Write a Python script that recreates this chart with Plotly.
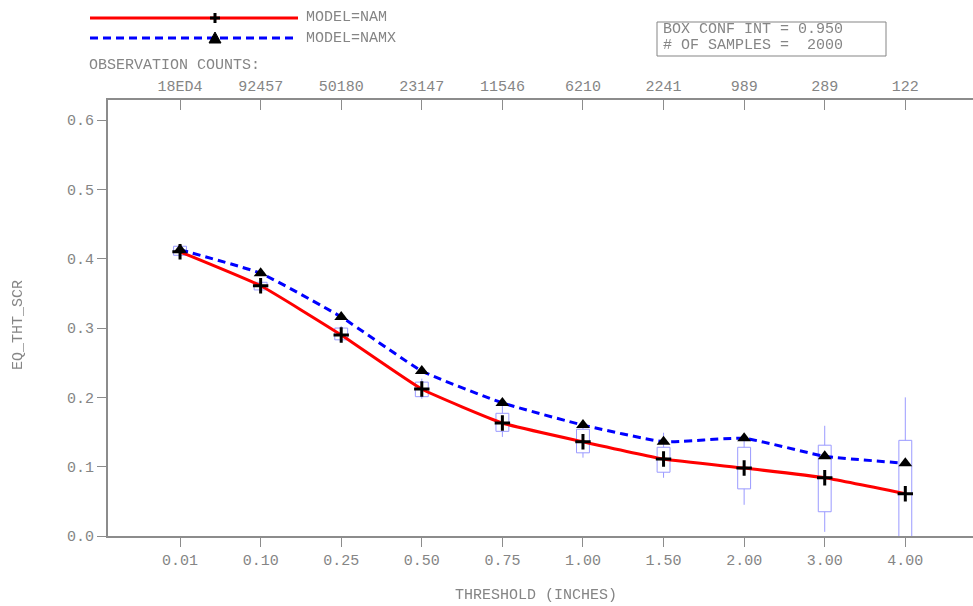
import plotly.graph_objects as go

# Threshold categories (inches) and the observation counts for each
thresholds = ["0.01", "0.10", "0.25", "0.50", "0.75", "1.00", "1.50", "2.00", "3.00", "4.00"]
obs_counts = ["18ED4", "92457", "50180", "23147", "11546", "6210", "2241", "989", "289", "122"]

# Equitable threat score per model
nam = [0.410, 0.361, 0.290, 0.212, 0.163, 0.136, 0.111, 0.098, 0.084, 0.061]
namx = [0.413, 0.379, 0.316, 0.238, 0.192, 0.160, 0.136, 0.141, 0.115, 0.105]

# Bootstrap confidence boxes (box edges and whisker ends)
box_lo = [0.405, 0.355, 0.283, 0.201, 0.151, 0.120, 0.092, 0.068, 0.035, -0.005]
box_hi = [0.418, 0.366, 0.300, 0.222, 0.177, 0.154, 0.128, 0.128, 0.131, 0.138]
whisk_lo = [0.403, 0.353, 0.280, 0.198, 0.143, 0.113, 0.084, 0.045, 0.006, -0.040]
whisk_hi = [0.420, 0.369, 0.303, 0.227, 0.196, 0.160, 0.149, 0.141, 0.159, 0.200]

idx = list(range(len(thresholds)))

FONT = "Liberation Mono"
GREY = "#858585"
AXIS = "#8c8c8c"

# plot area in pixels
L, R, T, B = 108, 0, 100, 70
W, H = 973, 606
PW, PH = W - L - R, H - T - B


def px(x):
    return (x - L) / PW


def py(y):
    return (H - B - y) / PH


fig = go.Figure()

fig.add_trace(go.Box(
    x=idx, q1=box_lo, q3=box_hi, median=nam,
    lowerfence=whisk_lo, upperfence=whisk_hi,
    width=0.16, whiskerwidth=0, boxpoints=False,
    line=dict(color="#9a9aff", width=1),
    fillcolor="rgba(0,0,0,0)", showlegend=False, hoverinfo="skip",
))

fig.add_trace(go.Scatter(
    x=idx, y=nam, mode="lines+markers", name="MODEL=NAM",
    line=dict(color="#ff0000", width=3, shape="spline", smoothing=0.4),
    marker=dict(symbol="cross-thin", size=11, color="black",
                line=dict(color="black", width=3)),
    showlegend=False,
))
fig.add_trace(go.Scatter(
    x=idx, y=namx, mode="lines+markers", name="MODEL=NAMX",
    line=dict(color="#0000ff", width=3, dash="8px,5px", shape="spline", smoothing=0.4),
    marker=dict(symbol="triangle-up", size=12, color="black"),
    showlegend=False,
))
# carrier for the top (observation counts) axis
fig.add_trace(go.Scatter(
    x=idx, y=nam, xaxis="x2", mode="markers", opacity=0,
    showlegend=False, hoverinfo="skip",
))

xrange = [-0.894, 9.84]
yrange = [0, 0.629]

fig.update_layout(
    width=W, height=H,
    margin=dict(l=L, r=R, t=T, b=B),
    paper_bgcolor="white", plot_bgcolor="white",
    font=dict(family=FONT, size=15, color=GREY),
    xaxis=dict(
        range=xrange, tickmode="array", tickvals=idx, ticktext=thresholds,
        ticks="outside", ticklen=9, tickcolor=AXIS, tickwidth=1,
        showline=True, linecolor=AXIS, linewidth=2, mirror=False,
        showgrid=False, zeroline=False,
        tickfont=dict(family=FONT, size=15, color=GREY),
    ),
    xaxis2=dict(
        range=xrange, overlaying="x", side="top", anchor="y",
        tickmode="array", tickvals=idx, ticktext=obs_counts,
        ticks="inside", ticklen=10, tickcolor=AXIS, tickwidth=1,
        showline=True, linecolor=AXIS, linewidth=2,
        showgrid=False, zeroline=False, ticklabelstandoff=1,
        tickfont=dict(family=FONT, size=15, color=GREY),
    ),
    yaxis=dict(
        range=yrange, tickmode="array",
        tickvals=[0, 0.1, 0.2, 0.3, 0.4, 0.5, 0.6],
        ticktext=["0.0", "0.1", "0.2", "0.3", "0.4", "0.5", "0.6"],
        ticks="outside", ticklen=9, tickcolor=AXIS, tickwidth=1,
        showline=True, linecolor=AXIS, linewidth=2,
        showgrid=False, zeroline=False,
        tickfont=dict(family=FONT, size=15, color=GREY),
    ),
    yaxis2=dict(
        range=yrange, overlaying="y", side="left",
        tickmode="array", tickvals=[0.2, 0.4, 0.6],
        showticklabels=False, ticks="",
        showgrid=True, gridcolor="#c4c4c4", gridwidth=1.5,
        zeroline=False, showline=False,
    ),
)

# legend samples
for ypix, color, dash, label in [(18, "#ff0000", "solid", "MODEL=NAM"),
                                 (38, "#0000ff", "8px,5px", "MODEL=NAMX")]:
    fig.add_shape(type="line", xref="paper", yref="paper",
                  x0=px(90), x1=px(298), y0=py(ypix), y1=py(ypix),
                  line=dict(color=color, width=3, dash=dash))
    fig.add_annotation(xref="paper", yref="paper", x=px(304), y=py(ypix),
                       text=label, showarrow=False, xanchor="left", yanchor="middle",
                       font=dict(family=FONT, size=15, color=GREY))

fig.add_shape(type="path", xref="paper", yref="paper", xsizemode="pixel", ysizemode="pixel",
              xanchor=px(215), yanchor=py(18),
              path="M-5,0 L5,0 M0,-5 L0,5", line=dict(color="black", width=3))
fig.add_shape(type="path", xref="paper", yref="paper", xsizemode="pixel", ysizemode="pixel",
              xanchor=px(215), yanchor=py(38),
              path="M-6,-5 L6,-5 L0,6 Z", fillcolor="black", line=dict(color="black", width=1))

fig.add_annotation(xref="paper", yref="paper", x=px(87), y=py(66),
                   text="OBSERVATION COUNTS:", showarrow=False,
                   xanchor="left", yanchor="middle",
                   font=dict(family=FONT, size=15, color=GREY))

# bootstrap info box
fig.add_shape(type="rect", xref="paper", yref="paper",
              x0=px(657), x1=px(886), y0=py(56), y1=py(22),
              line=dict(color=GREY, width=1))
for ypix, txt in [(30, "BOX CONF INT = 0.950"), (46, "# OF SAMPLES =\u00a0\u00a02000")]:
    fig.add_annotation(xref="paper", yref="paper", x=px(661), y=py(ypix),
                       text=txt.replace(" ", "\u00a0"), showarrow=False,
                       xanchor="left", yanchor="middle",
                       font=dict(family=FONT, size=15, color=GREY))

# axis titles
fig.add_annotation(xref="paper", yref="paper", x=px(536), y=py(595),
                   text="THRESHOLD (INCHES)", showarrow=False,
                   xanchor="center", yanchor="middle",
                   font=dict(family=FONT, size=15, color=GREY))
fig.add_annotation(xref="paper", yref="paper", x=px(18), y=py(325),
                   text="EQ_THT_SCR", showarrow=False, textangle=-90,
                   xanchor="center", yanchor="middle",
                   font=dict(family=FONT, size=15, color=GREY))

fig.write_html("out.html")
